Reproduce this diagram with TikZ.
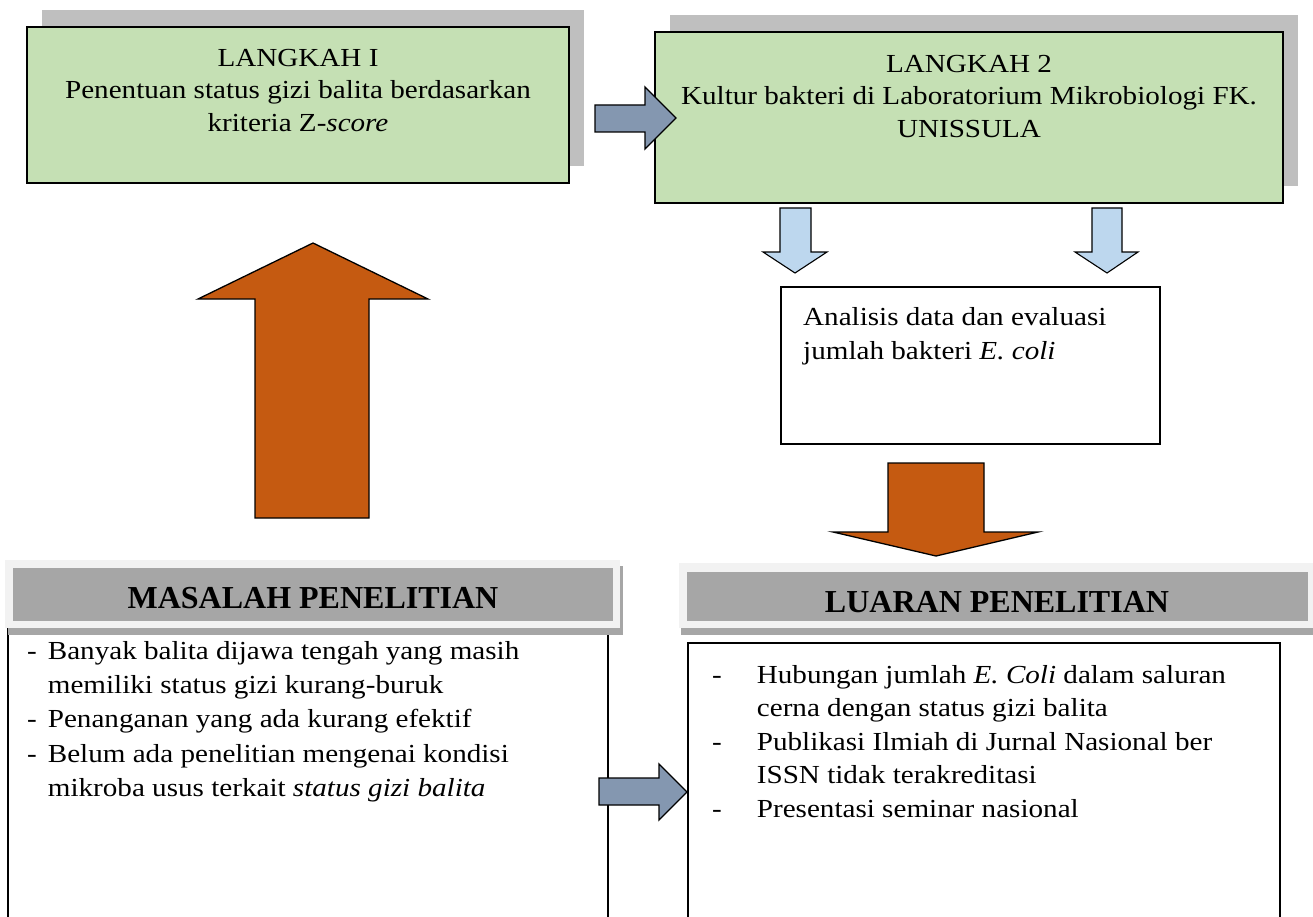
\documentclass[tikz,border=0pt]{standalone}
\usepackage{fontspec}
\setmainfont{Liberation Serif}
\newfontfamily\bodyfont{Liberation Serif}[FakeStretch=1.12]
\usetikzlibrary{shadows}
\definecolor{boxgreen}{HTML}{C5E0B4}
\definecolor{shadowgray}{HTML}{BFBFBF}
\definecolor{slateblue}{HTML}{8497B0}
\definecolor{lightblue}{HTML}{BDD7EE}
\definecolor{rust}{HTML}{C55A11}
\definecolor{headdark}{HTML}{A6A6A6}
\definecolor{headlight}{HTML}{F2F2F2}
\tikzset{
  greenbox/.style={draw=black, line width=1.5pt, fill=boxgreen, inner sep=0pt,
    general shadow={shadow xshift=15pt, shadow yshift=17pt, fill=shadowgray}},
  plainbox/.style={draw=black, line width=1.5pt, fill=white, inner sep=0pt},
  blockarrow/.style={draw=black, line width=1.3pt, line join=miter},
  txttop/.style={inner sep=0pt, font=\bodyfont\fontsize{26}{32.5}\selectfont},
  txtbot/.style={inner sep=0pt, font=\bodyfont\fontsize{26}{34}\selectfont},
  headtxt/.style={inner sep=0pt, font=\bfseries\fontsize{32}{38}\selectfont},
}
\begin{document}
\begin{tikzpicture}[x=1pt,y=-1pt]
\clip (0,0) rectangle (1313,917);
\fill[white] (0,0) rectangle (1313,917);

% ---- top boxes ----
\node[greenbox, minimum width=542pt, minimum height=156pt] (step1) at (298,105) {};
\node[txttop, anchor=north] (step1txt) at (298,43.25) {\begin{tabular}{@{}c@{}}LANGKAH I\\Penentuan status gizi balita berdasarkan\\kriteria Z-\textit{score}\end{tabular}};

\node[greenbox, minimum width=628pt, minimum height=171pt] (step2) at (969,117.5) {};
\node[txttop, anchor=north] (step2txt) at (969,49.25) {\begin{tabular}{@{}c@{}}LANGKAH 2\\Kultur bakteri di Laboratorium Mikrobiologi FK.\\UNISSULA\end{tabular}};

% arrow step1 -> step2
\draw[blockarrow, fill=slateblue] (595,105) -- (645,105) -- (645,87) -- (676,118) -- (645,149) -- (645,132) -- (595,132) -- cycle;

% small down arrows
\draw[blockarrow, line width=1.1pt, fill=lightblue] (780,208) -- (811,208) -- (811,252) -- (827,252) -- (795,273) -- (763,252) -- (780,252) -- cycle;
\draw[blockarrow, line width=1.1pt, fill=lightblue] (1092,208) -- (1122,208) -- (1122,252) -- (1138,252) -- (1107,273) -- (1075,252) -- (1092,252) -- cycle;

% analisis box
\node[plainbox, minimum width=379pt, minimum height=157pt] (analisis) at (970.5,365.5) {};
\node[txtbot, anchor=north west] (analisistxt) at (803,301) {\begin{tabular}{@{}l@{}}Analisis data dan evaluasi\\jumlah bakteri \textit{E. coli}\end{tabular}};

% orange arrows
\draw[blockarrow, fill=rust] (255,518) -- (255,299) -- (198,299) -- (313,243) -- (428,299) -- (369,299) -- (369,518) -- cycle;
\draw[blockarrow, fill=rust] (888,463) -- (984,463) -- (984,532) -- (1038,532) -- (936,556) -- (833,532) -- (888,532) -- cycle;

% ---- bottom left ----
\node[plainbox, minimum width=600pt, minimum height=305pt] (masalah) at (308,777.5) {};
\fill[headdark] (8,566) rectangle (623,635);
\fill[headlight] (5,560) rectangle (620,628);
\node[fill=headdark, minimum width=600pt, minimum height=53pt, inner sep=0pt] (masalahhead) at (313,594.5) {};
\node[headtxt, anchor=base] (masalahheadtxt) at (313,608) {MASALAH PENELITIAN};
\node[txtbot, font=\bodyfont\fontsize{26}{34.3}\selectfont, anchor=north west] (masalahtxt) at (27,635) {\begin{tabular}{@{}l@{\hspace{11pt}}l@{}}
-&Banyak balita dijawa tengah yang masih\\
&memiliki status gizi kurang-buruk\\
-&Penanganan yang ada kurang efektif\\
-&Belum ada penelitian mengenai kondisi\\
&mikroba usus terkait \textit{status gizi balita}
\end{tabular}};

% ---- bottom right ----
\node[plainbox, minimum width=592pt, minimum height=290pt] (luaran) at (984,788) {};
\fill[headdark] (681,568) rectangle (1320,635);
\fill[headlight] (679,563) rectangle (1320,628);
\node[fill=headdark, minimum width=621pt, minimum height=49pt, inner sep=0pt] (luaranhead) at (997.5,596.5) {};
\node[headtxt, anchor=base] (luaranheadtxt) at (997,612) {LUARAN PENELITIAN};
\node[txtbot, font=\bodyfont\fontsize{26}{33.5}\selectfont, anchor=north west] (luarantxt) at (712,659.5) {\begin{tabular}{@{}l@{\hspace{35pt}}l@{}}
-&Hubungan jumlah \textit{E. Coli} dalam saluran\\
&cerna dengan status gizi balita\\
-&Publikasi Ilmiah di Jurnal Nasional ber\\
&ISSN tidak terakreditasi\\
-&Presentasi seminar nasional
\end{tabular}};

% arrow masalah -> luaran
\draw[blockarrow, fill=slateblue] (599,778) -- (659,778) -- (659,764) -- (687,792) -- (659,820) -- (659,805) -- (599,805) -- cycle;
\end{tikzpicture}
\end{document}
